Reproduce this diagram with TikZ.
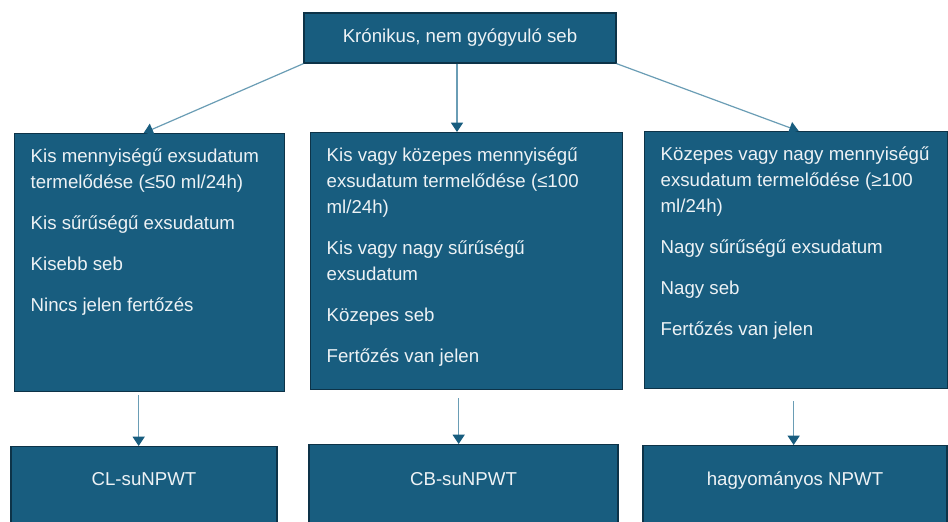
\documentclass[tikz,border=0pt]{standalone}
\usepackage{fontspec}
\setmainfont{Liberation Sans}
\usetikzlibrary{arrows.meta}

\definecolor{boxblue}{HTML}{185D7F}
\definecolor{boxedge}{HTML}{0D3348}
\definecolor{linkblue}{HTML}{6A9DB5}
\definecolor{boxtext}{HTML}{EDF2F5}

% text of a criteria panel: width, height, paragraphs
\newcommand{\crittext}[3]{\parbox[t][#2][t]{#1}{\raggedright\leftskip=12pt\parskip=11.25pt\rule{0pt}{21.75pt}#3}}

\begin{document}
\begin{tikzpicture}[x=0.75pt,y=-0.75pt,>={Triangle[width=9pt,length=7pt,color=boxblue]},
	box/.style={rectangle, draw=boxedge, fill=boxblue, line width=1pt, text=boxtext, font=\fontsize{14}{19.5}\selectfont},
	link/.style={draw=linkblue, line width=0.9pt}]
	\useasboundingbox (0,0) rectangle (948,521);
	\fill[white] (0,0) rectangle (948,521);

	\node (root)	at (460,38) [box, minimum width=234pt, minimum height=37.5pt] {Krónikus, nem gyógyuló seb};

	\node (crit0)	at (14,133) [box, anchor=north west, inner sep=0pt] {\crittext{202.5pt}{193.5pt}{Kis mennyiségű exsudatum\\ termelődése (≤50 ml/24h)\par Kis sűrűségű exsudatum\par Kisebb seb\par Nincs jelen fertőzés}};
	\node (crit1)	at (310,132) [box, anchor=north west, inner sep=0pt] {\crittext{234pt}{192.75pt}{Kis vagy közepes mennyiségű\\ exsudatum termelődése (≤100\\ ml/24h)\par Kis vagy nagy sűrűségű\\ exsudatum\par Közepes seb\par Fertőzés van jelen}};
	\node (crit2)	at (644,131) [box, anchor=north west, inner sep=0pt] {\crittext{227.25pt}{192.75pt}{Közepes vagy nagy mennyiségű\\ exsudatum termelődése (≥100\\ ml/24h)\par Nagy sűrűségű exsudatum\par Nagy seb\par Fertőzés van jelen}};

	\node (ther0)	at (144,446) [box, anchor=north, minimum width=199.5pt, inner ysep=0pt, text height=29.25pt, text depth=60pt] {CL-suNPWT};
	\node (ther1)	at (463.5,444) [box, anchor=north, minimum width=231.75pt, inner ysep=0pt, text height=30.75pt, text depth=60pt] {CB-suNPWT};
	\node (ther2)	at (795,445) [box, anchor=north, minimum width=228pt, inner ysep=0pt, text height=30pt, text depth=60pt] {hagyományos NPWT};

	\path (root.south west)	edge[->,link] ([xshift=-4.5pt]crit0.north)
		([xshift=-2.25pt]root.south)	edge[->,link] ([xshift=-2.25pt]root.south |- crit1.north)
		(root.south east)	edge[->,link] ([xshift=1.9pt]crit2.north)
		([xshift=-8.25pt,yshift=-2.25pt]crit0.south)	edge[->,link] ([xshift=-8.25pt]crit0.south |- ther0.north)
		([xshift=-6pt,yshift=-6pt]crit1.south)	edge[->,link] ([xshift=-6pt]crit1.south |- ther1.north)
		([xshift=-1.9pt,yshift=-9pt]crit2.south)	edge[->,link] ([xshift=-1.9pt]crit2.south |- ther2.north);
\end{tikzpicture}
\end{document}
